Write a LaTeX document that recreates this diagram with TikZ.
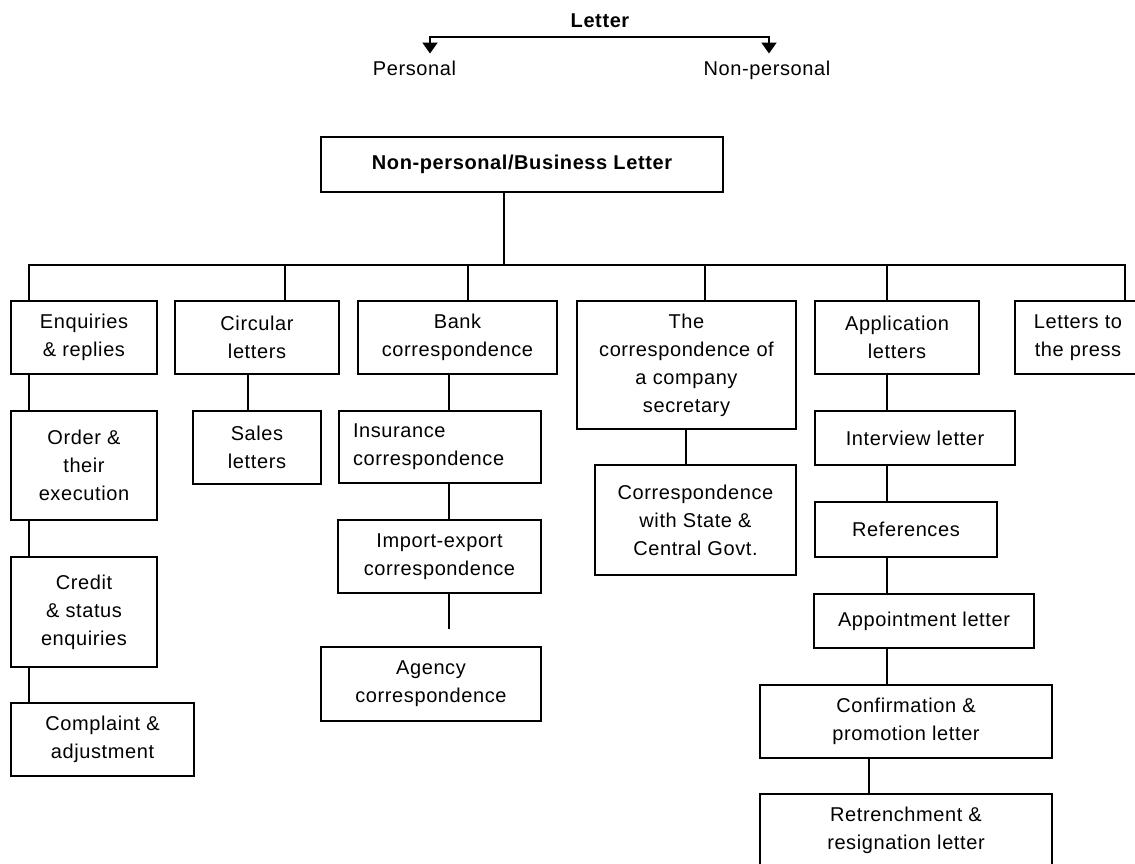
\documentclass[tikz,border=0pt]{standalone}
\usepackage{fontspec}
\setmainfont{Liberation Sans}[LetterSpace=3.0]
\usetikzlibrary{arrows.meta}

\begin{document}
\begin{tikzpicture}[x=0.5pt, y=-0.5pt, line width=1pt,
		box/.style={draw, line width=1pt, inner sep=0pt, align=center},
		dims/.style 2 args={minimum width=#1*0.5pt, minimum height=#2*0.5pt},
		heading/.style={inner xsep=0pt, inner ysep=3pt, anchor=base},
		>={Triangle[width=7.5pt, length=5.5pt]}]
		\tikzstyle{every node}=[font=\fontsize{10}{14}\selectfont]
		\useasboundingbox (0,0) rectangle (1135,863);
		
		% top split
		\node[heading, font=\fontsize{10}{14}\selectfont\bfseries] (letter) at (600,27) {Letter};
		\node[heading] (personal) at (414.5,75) {Personal};
		\node[heading] (nonpers) at (767,75) {Non-personal};
		\coordinate (lbar) at (600,37);
		\draw[<->] ([xshift=7.75pt]personal.north) |- (lbar) -| ([xshift=1pt]nonpers.north);
		
		% business letter tree
		\node[box, dims={402}{55}, font=\fontsize{10}{14}\selectfont\bfseries] (main) at (522,164.5) {Non-personal/Business Letter};
		
		\node[box, dims={146}{73}] (enq) at (84,337.5) {Enquiries\\\& replies};
		\node[box, dims={164}{73}] (circ) at (257,337.5) {Circular\\letters};
		\node[box, dims={199}{73}] (bank) at (457.5,337.5) {Bank\\correspondence};
		\node[box, dims={219}{128}] (secr) at (686.5,365) {The\\correspondence of\\a company\\secretary};
		\node[box, dims={164}{73}] (appl) at (897,337.5) {Application\\letters};
		\node[box, dims={126}{73}] (press) at (1078,337.5) {Letters to\\the press};
		
		\node[box, dims={146}{109}] (order) at (84,465.5) {Order \&\\their\\execution};
		\node[box, dims={146}{110}] (credit) at (84,612) {Credit\\\& status\\enquiries};
		\node[box, dims={183}{73}] (complaint) at (102.5,739.5) {Complaint \&\\adjustment};
		
		\node[box, dims={128}{73}] (sales) at (257,447.5) {Sales\\letters};
		
		\node[box, dims={202}{72}, align=left, text width=87pt, inner xsep=7pt] (insur) at (440,447) {Insurance\\correspondence};
		\node[box, dims={203}{73}] (import) at (439.5,556.5) {Import-export\\correspondence};
		\node[box, dims={220}{74}] (agency) at (431,684) {Agency\\correspondence};
		
		\node[box, dims={201}{110}] (state) at (695.5,520) {Correspondence\\with State \&\\Central Govt.};
		
		\node[box, dims={200}{54}] (interv) at (915,438) {Interview letter};
		\node[box, dims={182}{55}] (refs) at (906,529.5) {References};
		\node[box, dims={220}{54}] (appoint) at (924,621) {Appointment letter};
		\node[box, dims={292}{73}] (confirm) at (906,721.5) {Confirmation \&\\promotion letter};
		\node[box, dims={292}{73}] (retrench) at (906,830.5) {Retrenchment \&\\resignation letter};
		
		% bar and drops
		\coordinate (b0) at (504,265);
		\coordinate (b1) at (29,265);
		\coordinate (b2) at (285,265);
		\coordinate (b3) at (468,265);
		\coordinate (b4) at (705,265);
		\coordinate (b5) at (887,265);
		\coordinate (b6) at (1125,265);
		\draw (main.south -| b0) -- (b0);
		\draw (b1 |- enq.north) -- (b1) -- (b6) -- (b6 |- press.north);
		\foreach \b/\n in {b2/circ, b3/bank, b4/secr, b5/appl}
			\draw (\b) -- (\b |- \n.north);
		
		% columns
		\coordinate (s2) at (248,0);
		\coordinate (s3) at (449,0);
		\coordinate (s4) at (686,0);
		\coordinate (s6) at (869,0);
		\foreach \u/\v in {enq/order, order/credit, credit/complaint}
			\draw (b1 |- \u.south) -- (b1 |- \v.north);
		\draw (s2 |- circ.south) -- (s2 |- sales.north);
		\foreach \u/\v in {bank/insur, insur/import}
			\draw (s3 |- \u.south) -- (s3 |- \v.north);
		\coordinate (stub) at (449,629);
		\draw (stub |- import.south) -- (stub);
		\draw (s4 |- secr.south) -- (s4 |- state.north);
		\foreach \u/\v in {appl/interv, interv/refs, refs/appoint, appoint/confirm}
			\draw (b5 |- \u.south) -- (b5 |- \v.north);
		\draw (s6 |- confirm.south) -- (s6 |- retrench.north);
		
	\end{tikzpicture}
\end{document}
